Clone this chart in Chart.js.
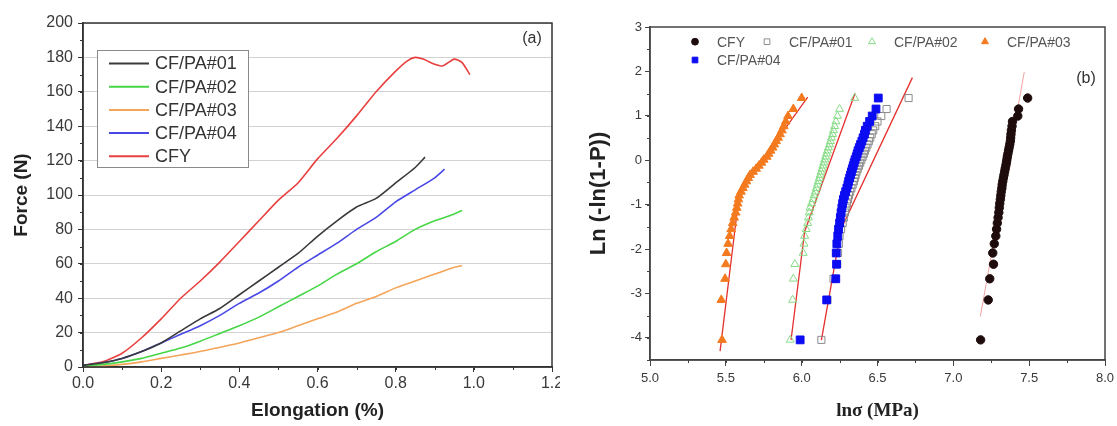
<!DOCTYPE html>
<html>
<head>
<meta charset="utf-8">
<script src="https://cdn.jsdelivr.net/npm/chart.js@4.4.1/dist/chart.umd.min.js"></script>
<style>
  body { margin: 0; background: #fff; }
  #wrap { position: relative; width: 1117px; height: 426px; }
  canvas { position: absolute; top: 0; }
  #forceChart { left: 0; }
  #weibullChart { left: 560px; }
</style>
</head>
<body>
<div id="wrap">
  <canvas id="forceChart" width="560" height="426"></canvas>
  <canvas id="weibullChart" width="557" height="426"></canvas>
</div>
<script>
// ---------------- DATA (a): force vs elongation ----------------

const pa01X = [0, 0.05, 0.1, 0.15, 0.2, 0.25, 0.3, 0.35, 0.4, 0.45, 0.5, 0.55, 0.6, 0.65, 0.7, 0.75, 0.8, 0.85, 0.875];
const pa01Y = [1, 2.5, 5, 9, 14, 21, 28, 34, 42, 50, 58, 66, 76, 85, 93, 98, 107, 116, 122];

const pa02X = [0, 0.05, 0.1, 0.15, 0.2, 0.25, 0.3, 0.35, 0.4, 0.45, 0.5, 0.55, 0.6, 0.65, 0.7, 0.75, 0.8, 0.85, 0.9, 0.95, 0.97];
const pa02Y = [0.5, 1.5, 3, 5, 8, 11, 15, 19.5, 24, 29, 35, 41, 47, 54, 60, 67, 73, 80, 85, 89, 91];

const pa03X = [0, 0.05, 0.1, 0.15, 0.2, 0.25, 0.3, 0.35, 0.4, 0.45, 0.5, 0.55, 0.6, 0.65, 0.7, 0.75, 0.8, 0.85, 0.9, 0.95, 0.97];
const pa03Y = [0, 0.5, 1.5, 3, 5, 7, 9, 11.5, 14, 17, 20, 24, 28, 32, 37, 41, 46, 50, 54, 58, 59];

const pa04X = [0, 0.05, 0.1, 0.15, 0.2, 0.25, 0.3, 0.35, 0.4, 0.45, 0.5, 0.55, 0.6, 0.65, 0.7, 0.75, 0.8, 0.85, 0.9, 0.925];
const pa04Y = [1, 2.5, 5, 9, 14, 19, 24, 30, 37, 43, 50, 58, 65, 72, 80, 87, 96, 103, 110, 115];

const cfyX = [0, 0.05, 0.1, 0.15, 0.2, 0.25, 0.3, 0.35, 0.4, 0.45, 0.5, 0.55, 0.6, 0.65, 0.7, 0.75, 0.8, 0.83, 0.85, 0.87, 0.9, 0.92, 0.95, 0.97, 0.99];
const cfyY = [1, 3, 8, 17, 28, 40, 50, 61, 73, 85, 97, 107, 121, 133, 146, 160, 172, 178, 180, 179, 176, 175, 179, 177, 170];

// ---------------- DATA (b): Weibull plot ----------------

// ln(-ln(1-P)) of the ranked specimens, shared by every series
const rankY = [-4.047, -3.147, -2.671, -2.343, -2.090, -1.883, -1.707, -1.554, -1.417, -1.293,
  -1.179, -1.073, -0.975, -0.882, -0.793, -0.709, -0.629, -0.551, -0.476, -0.402,
  -0.331, -0.261, -0.192, -0.124, -0.056, 0.011, 0.078, 0.146, 0.215, 0.284,
  0.355, 0.429, 0.505, 0.586, 0.672, 0.766, 0.872, 0.995, 1.153, 1.400];

const cfyLn = [7.18, 7.23, 7.24, 7.265, 7.26, 7.27, 7.28, 7.285, 7.29, 7.295,
  7.30, 7.303, 7.306, 7.31, 7.313, 7.316, 7.32, 7.322, 7.326, 7.33,
  7.334, 7.338, 7.342, 7.346, 7.35, 7.353, 7.356, 7.36, 7.364, 7.368,
  7.372, 7.376, 7.378, 7.38, 7.383, 7.387, 7.39, 7.425, 7.43, 7.49];

const pa01Ln = [6.13, 6.17, 6.21, 6.235, 6.24, 6.245, 6.25, 6.26, 6.27, 6.278,
  6.285, 6.29, 6.298, 6.305, 6.312, 6.32, 6.328, 6.336, 6.344, 6.35,
  6.356, 6.362, 6.37, 6.378, 6.386, 6.394, 6.402, 6.41, 6.418, 6.426,
  6.434, 6.443, 6.452, 6.462, 6.472, 6.485, 6.50, 6.525, 6.56, 6.705];

const pa02Ln = [5.925, 5.94, 5.945, 5.955, 6.01, 6.015, 6.02, 6.03, 6.04, 6.045,
  6.05, 6.055, 6.065, 6.075, 6.082, 6.09, 6.097, 6.104, 6.11, 6.117,
  6.122, 6.128, 6.134, 6.14, 6.146, 6.152, 6.158, 6.164, 6.17, 6.177,
  6.184, 6.19, 6.197, 6.204, 6.21, 6.218, 6.226, 6.236, 6.25, 6.35];

const pa03Ln = [5.475, 5.47, 5.495, 5.50, 5.505, 5.515, 5.525, 5.535, 5.545, 5.555,
  5.565, 5.572, 5.578, 5.583, 5.588, 5.60, 5.612, 5.624, 5.636, 5.648,
  5.66, 5.68, 5.70, 5.718, 5.735, 5.75, 5.77, 5.782, 5.795, 5.808,
  5.82, 5.832, 5.845, 5.858, 5.87, 5.882, 5.895, 5.91, 5.945, 6.00];

const pa04Ln = [5.99, 6.165, 6.225, 6.23, 6.228, 6.232, 6.238, 6.243, 6.25, 6.255,
  6.26, 6.265, 6.27, 6.275, 6.282, 6.29, 6.298, 6.305, 6.31, 6.316,
  6.322, 6.328, 6.334, 6.34, 6.346, 6.352, 6.36, 6.366, 6.372, 6.38,
  6.388, 6.397, 6.405, 6.414, 6.42, 6.432, 6.448, 6.465, 6.49, 6.505];

// fitted lines
const cfyFitX = [7.178, 7.468];
const cfyFitY = [-3.52, 1.99];
const pa03FitX = [5.462, 5.59, 6.04];
const pa03FitY = [-4.3, -0.72, 1.42];
const pa02FitX = [5.93, 6.02, 6.352];
const pa02FitY = [-4.05, -1.6, 1.51];
const pa0104FitX = [6.13, 6.26, 6.73];
const pa0104FitY = [-4.05, -1.55, 1.86];


Chart.defaults.font.family = "'Liberation Sans', Arial, sans-serif";
Chart.defaults.color = "#3a3a3a";

function pts(xs, ys) {
  return xs.map((x, i) => ({ x: x, y: ys[i] }));
}

function fixBox(size, isX) {
  return scale => {
    if (isX) scale.height = size; else scale.width = size;
    scale.paddingLeft = 0; scale.paddingRight = 0;
    scale.paddingTop = 0; scale.paddingBottom = 0;
  };
}

// frame + minor ticks, drawn from the chart's own scales
function framePlugin(o) {
  return {
    id: "frame",
    afterDraw(chart) {
      const { ctx, chartArea: a, scales } = chart;
      ctx.save();
      ctx.strokeStyle = o.color;
      ctx.lineWidth = 1;
      const x = scales.x, y = scales.y;
      const nx = Math.round((x.max - x.min) / o.xMinor);
      for (let i = 0; i <= nx; i++) {
        const px = Math.round(x.getPixelForValue(x.min + i * o.xMinor)) + 0.5;
        ctx.beginPath(); ctx.moveTo(px, a.bottom); ctx.lineTo(px, a.bottom + 3); ctx.stroke();
      }
      const ny = Math.round((y.max - y.min) / o.yMinor);
      for (let i = 0; i <= ny; i++) {
        const py = Math.round(y.getPixelForValue(y.min + i * o.yMinor)) + 0.5;
        ctx.beginPath(); ctx.moveTo(a.left, py); ctx.lineTo(a.left - 3, py); ctx.stroke();
      }
      ctx.lineWidth = 1.5;
      ctx.strokeRect(a.left, a.top, a.right - a.left, a.bottom - a.top);

      ctx.fillStyle = "#333";
      ctx.font = "16px 'Liberation Sans', Arial, sans-serif";
      ctx.textAlign = "center";
      ctx.textBaseline = "middle";
      ctx.fillText(o.tag, a.left + o.tagX, a.top + o.tagY);
      ctx.restore();
    }
  };
}


// ---------------- (a) FORCE ----------------

const lineLegend = {
  id: "lineLegend",
  afterDraw(chart) {
    const { ctx, chartArea: a } = chart;
    const left = a.left + 14, top = a.top + 27;
    ctx.save();
    ctx.fillStyle = "#fff";
    ctx.fillRect(left, top, 151, 117);
    ctx.strokeStyle = "#8a8a8a";
    ctx.lineWidth = 1;
    ctx.strokeRect(left + 0.5, top + 0.5, 151, 117);
    ctx.font = "18px 'Liberation Sans', Arial, sans-serif";
    ctx.textBaseline = "middle";
    chart.data.datasets.forEach((ds, i) => {
      const yy = top + 13.5 + i * 23.2;
      ctx.strokeStyle = ds.borderColor;
      ctx.lineWidth = 2;
      ctx.beginPath(); ctx.moveTo(left + 12, yy); ctx.lineTo(left + 52, yy); ctx.stroke();
      ctx.fillStyle = "#333";
      ctx.fillText(ds.label, left + 58, yy + 1);
    });
    ctx.restore();
  }
};

new Chart(document.getElementById("forceChart"), {
  type: "line",
  data: {
    datasets: [
      { label: "CF/PA#01", data: pts(pa01X, pa01Y), borderColor: "#3a3a3a" },
      { label: "CF/PA#02", data: pts(pa02X, pa02Y), borderColor: "#46d646" },
      { label: "CF/PA#03", data: pts(pa03X, pa03Y), borderColor: "#f4a55a" },
      { label: "CF/PA#04", data: pts(pa04X, pa04Y), borderColor: "#4848e6" },
      { label: "CFY", data: pts(cfyX, cfyY), borderColor: "#e8403f" }
    ]
  },
  options: {
    responsive: false,
    animation: false,
    layout: { padding: { left: 0, top: 23, right: 8, bottom: 0 } },
    elements: {
      point: { radius: 0 },
      line: { borderWidth: 1.6, tension: 0.2 }
    },
    plugins: { legend: { display: false }, tooltip: { enabled: false } },
    scales: {
      x: {
        type: "linear", min: 0, max: 1.2,
        afterFit: fixBox(59, true),
        ticks: { stepSize: 0.2, padding: 2, font: { size: 16 }, callback: v => v.toFixed(1) },
        grid: { drawOnChartArea: false, tickLength: 5, tickColor: "#333" },
        border: { color: "#333", width: 1.5 },
        title: { display: true, text: "Elongation (%)", color: "#222",
          font: { size: 19, weight: "bold" }, padding: { top: 0, bottom: 4 } }
      },
      y: {
        type: "linear", min: 0, max: 200,
        afterFit: fixBox(83, false),
        ticks: { stepSize: 20, padding: 5, font: { size: 16 } },
        grid: { color: "#d2d2d2", tickLength: 5, tickColor: "#333" },
        border: { color: "#333", width: 1.5 },
        title: { display: true, text: "Force (N)", color: "#222",
          font: { size: 19, weight: "bold" }, padding: { top: 10, bottom: 0 } }
      }
    }
  },
  plugins: [framePlugin({ color: "#333", xMinor: 0.1, yMinor: 10, tag: "(a)", tagX: 449, tagY: 16 }), lineLegend]
});


// ---------------- (b) WEIBULL ----------------

const weibullSeries = [
  { label: "CFY", xs: cfyLn, style: "circle", radius: 4.2, fill: "#1e0b0b", stroke: "#1e0b0b", order: 4 },
  { label: "CF/PA#01", xs: pa01Ln, style: "rect", radius: 5, fill: "rgba(0,0,0,0)", stroke: "#8c8c8c", order: 3 },
  { label: "CF/PA#02", xs: pa02Ln, style: "triangle", radius: 4.6, fill: "rgba(0,0,0,0)", stroke: "#86dc86", order: 2 },
  { label: "CF/PA#03", xs: pa03Ln, style: "triangle", radius: 5, fill: "#f47a1f", stroke: "#f47a1f", order: 1 },
  { label: "CF/PA#04", xs: pa04Ln, style: "rect", radius: 5.5, fill: "#0c0cf2", stroke: "#0c0cf2", order: 0 }
];

const fitLines = [
  { xs: cfyFitX, ys: cfyFitY, color: "#f2a2a2", width: 1 },
  { xs: pa03FitX, ys: pa03FitY, color: "#e4302e", width: 1.3 },
  { xs: pa02FitX, ys: pa02FitY, color: "#e4302e", width: 1.3 },
  { xs: pa0104FitX, ys: pa0104FitY, color: "#e4302e", width: 1.3 }
];

const weibullDatasets = weibullSeries.map(s => ({
  label: s.label,
  data: pts(s.xs, rankY),
  pointStyle: s.style,
  pointRadius: s.radius,
  pointBackgroundColor: s.fill,
  pointBorderColor: s.stroke,
  pointBorderWidth: 1,
  showLine: false,
  order: s.order
})).concat(fitLines.map(f => ({
  label: "fit",
  data: pts(f.xs, f.ys),
  showLine: true,
  pointRadius: 0,
  borderColor: f.color,
  borderWidth: f.width,
  order: 5
})));

const markerLegend = {
  id: "markerLegend",
  afterDraw(chart) {
    const { ctx } = chart;
    const cols = [[135, 41.7], [207, 41.7], [312, 41.7], [425, 41.7], [135, 60]];
    ctx.save();
    ctx.font = "14px 'Liberation Sans', Arial, sans-serif";
    ctx.textBaseline = "middle";
    weibullSeries.forEach((s, i) => {
      const [mx, my] = cols[i];
      ctx.fillStyle = s.fill;
      ctx.strokeStyle = s.stroke;
      ctx.lineWidth = 1;
      Chart.helpers.drawPoint(ctx, { pointStyle: s.style, radius: s.style === "circle" ? 3.4 : 4, rotation: 0, borderWidth: 1 }, mx, my);
      ctx.fillStyle = "#555";
      ctx.fillText(s.label, mx + 22, my + 1);
    });
    ctx.restore();
  }
};

new Chart(document.getElementById("weibullChart"), {
  type: "scatter",
  data: { datasets: weibullDatasets },
  options: {
    responsive: false,
    animation: false,
    layout: { padding: { left: 0, top: 27, right: 12, bottom: 0 } },
    plugins: { legend: { display: false }, tooltip: { enabled: false } },
    scales: {
      x: {
        type: "linear", min: 5, max: 8,
        afterFit: fixBox(66, true),
        ticks: { stepSize: 0.5, padding: 5, font: { size: 13 }, callback: v => v.toFixed(1) },
        grid: { drawOnChartArea: false, tickLength: 6, tickColor: "#444" },
        border: { color: "#444", width: 1.5 },
        title: { display: true, text: "lnσ (MPa)", color: "#222",
          font: { family: "'Liberation Serif', 'Times New Roman', serif", size: 19, weight: "bold" },
          padding: { top: 0, bottom: 4 } }
      },
      y: {
        type: "linear", min: -4.5, max: 3,
        afterFit: fixBox(90, false),
        ticks: { stepSize: 1, includeBounds: false, padding: 3, font: { size: 13 } },
        grid: { drawOnChartArea: false, tickLength: 5, tickColor: "#444" },
        border: { color: "#444", width: 1.5 },
        title: { display: true, text: "Ln (-ln(1-P))", color: "#222",
          font: { size: 22, weight: "bold" }, padding: { top: 26, bottom: 0 } }
      }
    }
  },
  plugins: [framePlugin({ color: "#444", xMinor: 0.25, yMinor: 0.5, tag: "(b)", tagX: 436, tagY: 52 }), markerLegend]
});
</script>
</body>
</html>
